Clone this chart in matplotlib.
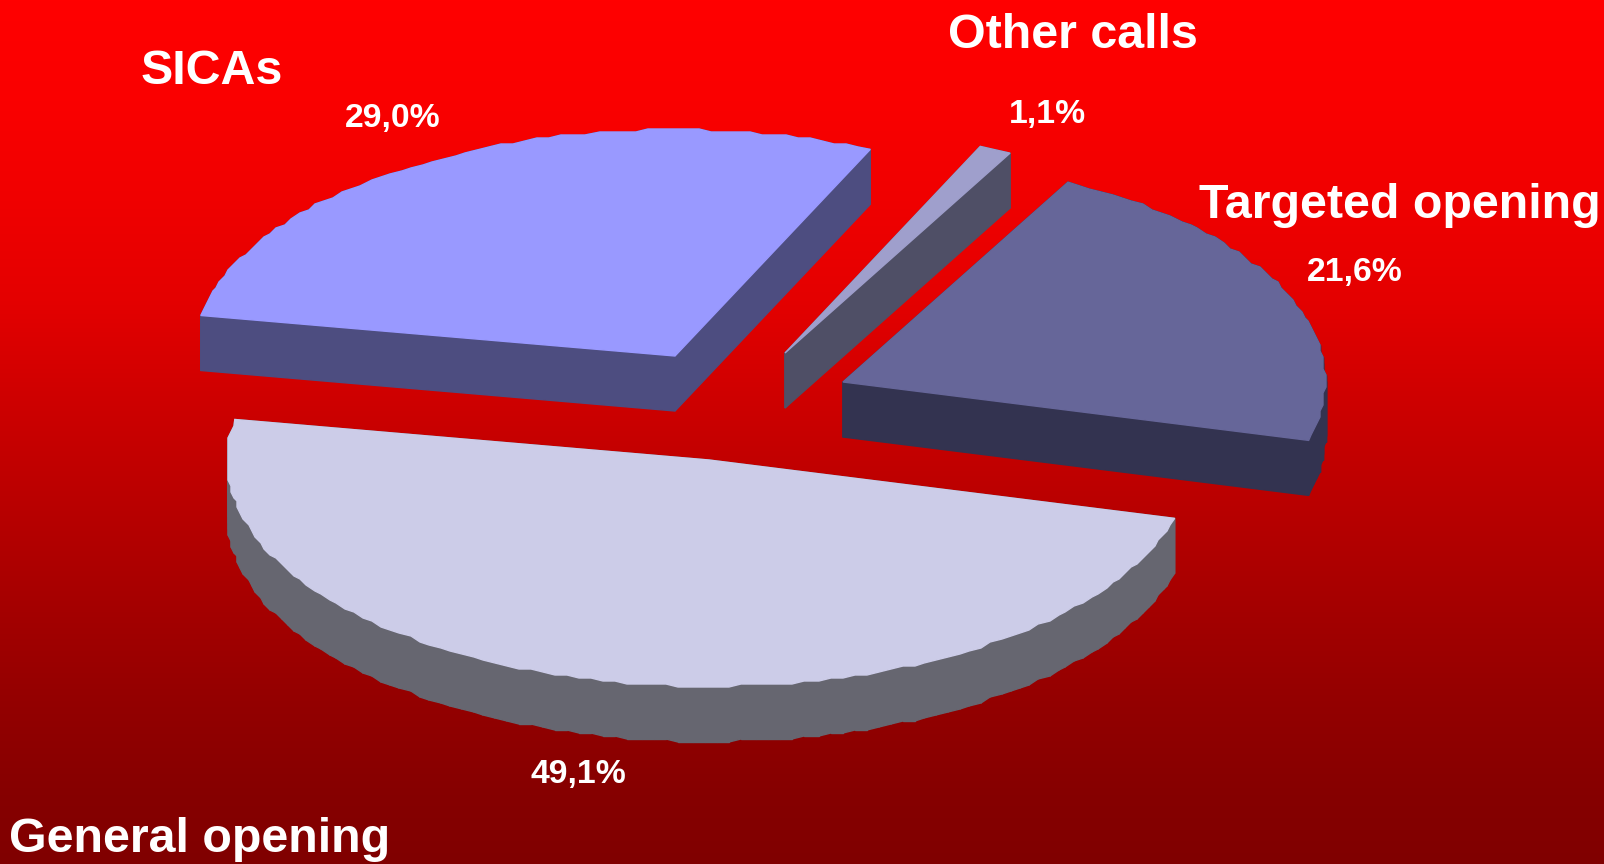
import numpy as np
import matplotlib
matplotlib.use('Agg')
import matplotlib.pyplot as plt
from matplotlib.patches import Polygon

plt.rcParams['font.family'] = ['Liberation Sans', 'DejaVu Sans']

# counter clockwise order, starting at the top right
names = ['SICAs', 'General opening', 'Targeted opening', 'Other calls']
values = [29.0, 49.1, 21.6, 1.1]
value_labels = ['29,0%', '49,1%', '21,6%', '1,1%']

top_colors = ['#9999FF', '#CCCCE8', '#666699', '#9F9FCC']
side_colors = ['#4D4D80', '#666670', '#333350', '#4F4F66']
centers = [(675, 356), (709, 460), (843, 382), (785, 353)]
name_pos = [(212, 71), (200, 840), (1400, 206), (1073, 35)]
label_pos = [(393, 119), (578, 775), (1355, 273), (1047, 114)]

# red channel of the background, read down the left edge
bg_rows = [0, 100, 200, 300, 400, 500, 600, 700, 794, 864]
bg_red = [255, 250, 240, 228, 206, 186, 166, 148, 134, 128]

start_angle = 66.1
rx = 482
ry = 226
depth = 55
jag = 3


def slice_outline(center, a1, a2):
    # ellipse arc of one slice, rounded to a grid so the rim stays rough like the original
    n = max(int((a2 - a1) / 1.5), 2)
    t = np.radians(np.linspace(a1, a2, n + 1))
    x = center[0] + rx * np.cos(t)
    y = center[1] - ry * np.sin(t)
    x[1:-1] = np.round(x[1:-1] / jag) * jag
    y[1:-1] = np.round(y[1:-1] / jag) * jag
    return np.vstack([[center], np.column_stack([x, y])])


fig = plt.figure(figsize=(16.04, 8.64), dpi=100)
ax = fig.add_axes([0, 0, 1, 1])
ax.set_xlim(0, 1604)
ax.set_ylim(864, 0)
ax.axis('off')

bg = np.zeros((864, 1, 3))
bg[:, 0, 0] = np.interp(np.arange(864), bg_rows, bg_red) / 255
ax.imshow(bg, extent=[0, 1604, 864, 0], aspect='auto', zorder=0)

angles = start_angle + np.cumsum([0] + values) / sum(values) * 360

for i in range(len(values)):
    pts = slice_outline(centers[i], angles[i], angles[i + 1])
    # side walls first, the top face then hides the ones at the back
    for j in range(len(pts)):
        p = pts[j]
        q = pts[(j + 1) % len(pts)]
        quad = [p, q, q + [0, depth], p + [0, depth]]
        ax.add_patch(Polygon(quad, closed=True, fc=side_colors[i], ec=side_colors[i], lw=1, zorder=2))
    ax.add_patch(Polygon(pts, closed=True, fc=top_colors[i], ec=top_colors[i], lw=1, zorder=3))

for i in range(len(names)):
    ax.text(name_pos[i][0], name_pos[i][1], names[i], color='white', fontsize=34.8, fontweight='bold',
            ha='center', va='center', zorder=5)
    ax.text(label_pos[i][0], label_pos[i][1], value_labels[i], color='white', fontsize=24.3, fontweight='bold',
            ha='center', va='center', zorder=5)

fig.savefig('out.png', dpi=100)
